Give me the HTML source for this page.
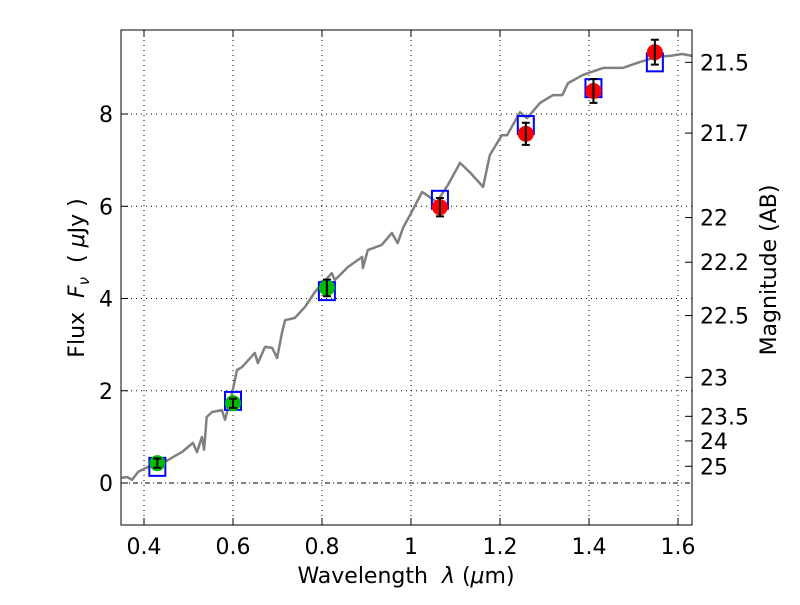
<!DOCTYPE html>
<html><head><meta charset="utf-8"><style>
body{margin:0;background:#fff;}
svg text{font-family:"DejaVu Sans","Liberation Sans",sans-serif;font-size:22px;fill:#000;}
</style></head><body>
<svg id="chart" width="800" height="600" xmlns="http://www.w3.org/2000/svg">
<rect width="800" height="600" fill="#fff"/>
<g id="grid"></g>
<g id="marks"></g>
<rect x="121" y="30" width="571" height="495" fill="none" stroke="#000" stroke-width="1"/>
<g id="axes"></g>
<text x="406" y="583" text-anchor="middle">Wavelength&#160;&#160;<tspan font-style="italic">λ</tspan>&#160;(<tspan font-style="italic">μ</tspan>m)</text>
<text transform="translate(84,278) rotate(-90)" text-anchor="middle">Flux&#160;&#160;<tspan font-style="italic">F<tspan font-size="15" dy="5">ν</tspan></tspan><tspan dy="-5">&#160;&#160;(&#160;</tspan><tspan font-style="italic">μ</tspan>Jy&#160;)</text>
<text transform="translate(776,270) rotate(-90)" text-anchor="middle">Magnitude (AB)</text>
</svg>
<script>
const specLam=[0.350,0.362,0.373,0.387,0.409,0.447,0.485,0.510,0.519,0.530,0.535,0.541,0.553,0.575,0.582,0.598,0.609,0.620,0.649,0.656,0.672,0.688,0.699,0.710,0.717,0.739,0.762,0.784,0.822,0.829,0.858,0.890,0.892,0.903,0.934,0.957,0.970,0.982,0.998,1.025,1.036,1.058,1.083,1.110,1.132,1.162,1.177,1.204,1.216,1.245,1.261,1.290,1.319,1.340,1.353,1.387,1.432,1.476,1.515,1.553,1.582,1.609,1.632];
const specFlux=[0.11,0.13,0.07,0.24,0.35,0.46,0.67,0.87,0.67,1.00,0.72,1.43,1.54,1.58,1.37,1.95,2.45,2.51,2.82,2.60,2.95,2.93,2.71,3.25,3.53,3.58,3.82,4.14,4.55,4.40,4.68,4.90,4.66,5.05,5.16,5.42,5.20,5.53,5.81,6.31,6.24,6.09,6.46,6.94,6.74,6.42,7.11,7.54,7.54,8.04,7.91,8.24,8.41,8.41,8.67,8.85,9.00,9.00,9.13,9.24,9.26,9.30,9.26];
const greenLam=[0.43,0.60,0.811];
const greenFlux=[0.43,1.73,4.23];
const greenErr=[0.1,0.1,0.18];
const redLam=[1.065,1.258,1.41,1.548];
const redFlux=[5.98,7.57,8.50,9.34];
const redErr=[0.2,0.24,0.26,0.27];
const boxLam=[0.43,0.60,0.811,1.065,1.258,1.41,1.548];
const boxFlux=[0.35,1.78,4.16,6.14,7.76,8.56,9.12];
const xTicks=[0.4,0.6,0.8,1,1.2,1.4,1.6];
const yTicks=[0,2,4,6,8];
const magTicks=[21.5,21.7,22,22.2,22.5,23,23.5,24,25];

const NS="http://www.w3.org/2000/svg";
const X=l=>121.75+(l-0.35)*445;
const Y=f=>483-f*46.125;
function mk(tag,attrs,parent){const e=document.createElementNS(NS,tag);for(const k in attrs)e.setAttribute(k,attrs[k]);parent.appendChild(e);return e;}
const grid=document.getElementById('grid'),marks=document.getElementById('marks'),axes=document.getElementById('axes');
xTicks.forEach(t=>{
  const x=X(t);
  const g=mk('line',{x1:x,x2:x,y1:30,y2:525,stroke:'#000','stroke-dasharray':'1,4','stroke-width':1},grid);
  
  
  mk('line',{x1:x,x2:x,y1:525,y2:518,stroke:'#000'},axes);
  mk('line',{x1:x,x2:x,y1:30,y2:37,stroke:'#000'},axes);
  const tx=mk('text',{x:x,y:554,'text-anchor':'middle'},axes);tx.textContent=String(t);
  
  
});
yTicks.forEach(t=>{
  const y=Y(t);
  const g=mk('line',{x1:121,x2:692,y1:y,y2:y,stroke:'#000','stroke-dasharray':t===0?'5,3,1,3':'1,4','stroke-width':1},grid);
  
  
  mk('line',{x1:121,x2:128,y1:y,y2:y,stroke:'#000'},axes);
  const tx=mk('text',{x:113,y:y+8,'text-anchor':'end'},axes);tx.textContent=String(t);
  
  
});
magTicks.forEach(m=>{
  const y=Y(Math.pow(10,(23.9-m)/2.5));
  mk('line',{x1:685,x2:692,y1:y,y2:y,stroke:'#000'},axes);
  const tx=mk('text',{x:700,y:y+8},axes);tx.textContent=String(m);
  
  
});
const d=specLam.map((l,i)=>(i?'L':'M')+X(l).toFixed(1)+','+Y(specFlux[i]).toFixed(1)).join(' ');
const sp=mk('path',{d:d,fill:'none',stroke:'#808080','stroke-width':2.5,'stroke-linejoin':'round'},marks);


boxLam.forEach((l,i)=>{
  const b=mk('rect',{x:X(l)-8,y:Y(boxFlux[i])-9,width:16,height:18,fill:'none',stroke:'#0000ff','stroke-width':2},marks);
  
  
});
function pts(lams,fl,er,col,name){
  lams.forEach((l,i)=>{
    const x=X(l),y=Y(fl[i]);
    const c=mk('circle',{cx:x,cy:y,r:8,fill:col},marks);
    
    
    const y1=Y(fl[i]+er[i]),y2=Y(fl[i]-er[i]);
    const e=mk('path',{d:`M${x},${y1}L${x},${y2}M${x-4},${y1}L${x+4},${y1}M${x-4},${y2}L${x+4},${y2}`,stroke:'#000','stroke-width':2,fill:'none'},marks);
    
    
  });
}
pts(greenLam,greenFlux,greenErr,'#00bb00','detection-point');
pts(redLam,redFlux,redErr,'#ff0000','nir-detection-point');
</script>
</body></html>
